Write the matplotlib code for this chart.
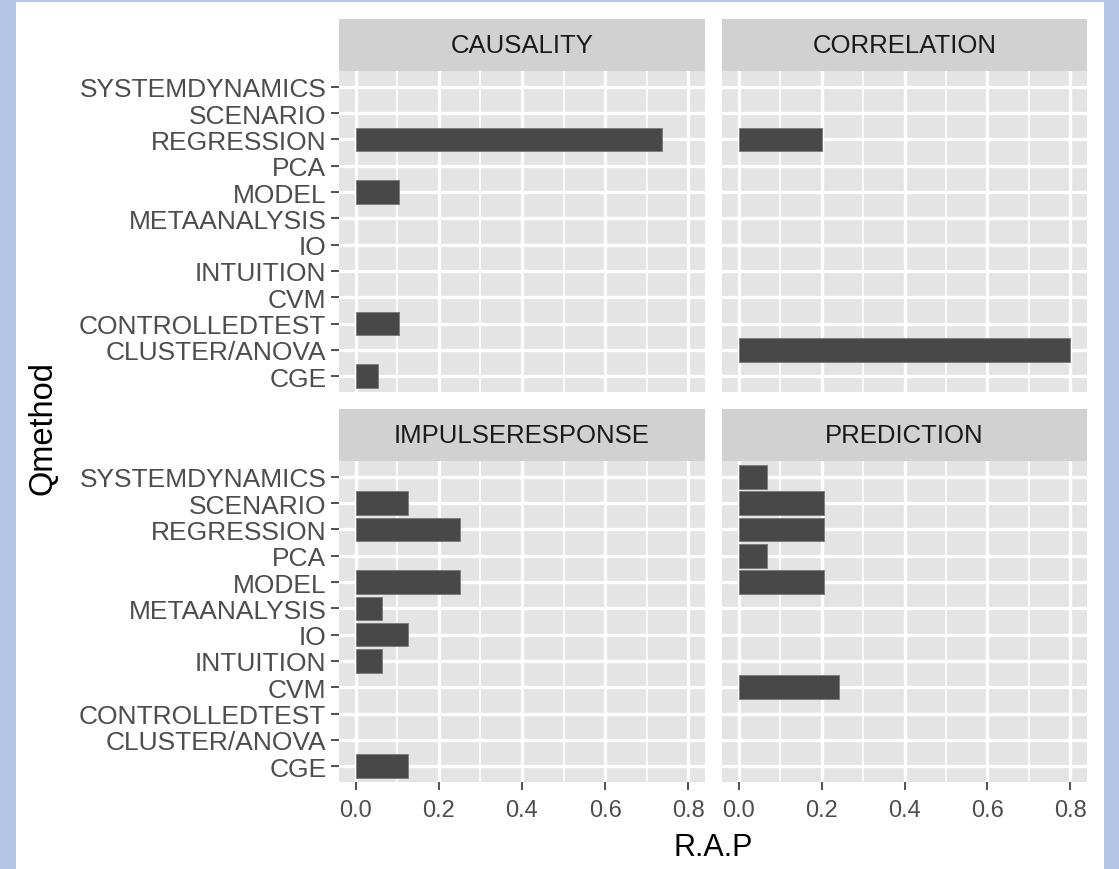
import matplotlib as mpl
mpl.use('Agg')
import matplotlib.pyplot as plt
import numpy as np
from matplotlib.patches import Rectangle

# categories on the y axis (bottom to top)
methods = ['CGE', 'CLUSTER/ANOVA', 'CONTROLLEDTEST', 'CVM', 'INTUITION', 'IO',
           'METAANALYSIS', 'MODEL', 'PCA', 'REGRESSION', 'SCENARIO', 'SYSTEMDYNAMICS']

facets = ['CAUSALITY', 'CORRELATION', 'IMPULSERESPONSE', 'PREDICTION']

# R.A.P values per facet, same order as methods
causality = [0.053, 0, 0.105, 0, 0, 0, 0, 0.105, 0, 0.737, 0, 0]
correlation = [0, 0.8, 0, 0, 0, 0, 0, 0, 0, 0.2, 0, 0]
impulse = [0.125, 0, 0, 0, 0.0625, 0.125, 0.0625, 0.25, 0, 0.25, 0.125, 0]
prediction = [0, 0, 0, 0.241, 0, 0, 0, 0.207, 0.069, 0.207, 0.207, 0.069]

values = [causality, correlation, impulse, prediction]
xticks = [0.0, 0.2, 0.4, 0.6, 0.8]
xticklabels = ['0.0', '0.2', '0.4', '0.6', '0.8']

W, H = 1119, 870
plt.rcParams['font.family'] = ['Liberation Sans', 'DejaVu Sans']
fig = plt.figure(figsize=(W / 100, H / 100), dpi=100, facecolor='#b4c8e6')
# white plot area inside the blue frame
fig.patches.append(Rectangle((16 / W, 0), (1104 - 16) / W, (H - 3) / H,
                             transform=fig.transFigure, facecolor='white',
                             edgecolor='none', zorder=-5))

# panel boxes in pixels: left, right, top, bottom
cols = [(339, 705), (722, 1087)]
rows = [(72, 393), (462, 783)]
strip_h = 52

def frac(l, r, t, b):
    return [l / W, 1 - b / H, (r - l) / W, (b - t) / H]

y = np.arange(len(methods))
for k, (name, vals) in enumerate(zip(facets, values)):
    ri, ci = divmod(k, 2)
    l, r = cols[ci]
    t, b = rows[ri]
    ax = fig.add_axes(frac(l, r, t, b))
    ax.set_facecolor('#e4e4e4')
    # no outline for empty bars
    lws = [0.6 if v > 0 else 0 for v in vals]
    ax.barh(y, vals, height=0.9, color='#484848', edgecolor='#7a7a7a',
            linewidth=lws, zorder=3)
    ax.set_xlim(-0.04, 0.84)
    ax.set_ylim(-0.6, len(methods) - 0.4)
    ax.set_xticks(xticks)
    ax.set_xticks([0.1, 0.3, 0.5, 0.7], minor=True)
    ax.set_yticks(y)
    ax.grid(which='major', color='white', linewidth=2.4, zorder=1)
    ax.grid(which='minor', axis='x', color='white', linewidth=1.2, zorder=1)
    ax.set_axisbelow(True)
    ax.tick_params(which='minor', length=0)
    for s in ax.spines.values():
        s.set_visible(False)
    ax.tick_params(axis='both', which='major', length=6, width=1.2,
                   color='#333333', labelcolor='#4d4d4d', labelsize=19, pad=3)
    if ci == 0:
        ax.set_yticklabels(methods)
    else:
        ax.tick_params(axis='y', length=0, labelleft=False)
    if ri == 1:
        ax.set_xticklabels(xticklabels, fontsize=17)
        ax.tick_params(axis='x', pad=6)
    else:
        ax.tick_params(axis='x', length=0, labelbottom=False)

    # facet strip
    sax = fig.add_axes(frac(l, r, t - strip_h, t))
    sax.set_facecolor('#d1d1d1')
    sax.set_xticks([])
    sax.set_yticks([])
    for s in sax.spines.values():
        s.set_visible(False)
    sax.text(0.5, 0.5, name, ha='center', va='center', fontsize=18.5,
             color='#1a1a1a', transform=sax.transAxes)

fig.text((339 + 1087) / 2 / W, 1 - 848 / H, 'R.A.P', ha='center', va='center',
         fontsize=22)
fig.text(43 / W, 1 - 428 / H, 'Qmethod', ha='center', va='center',
         rotation=90, fontsize=23.5)

plt.savefig('out.png', dpi=100, facecolor=fig.get_facecolor())
